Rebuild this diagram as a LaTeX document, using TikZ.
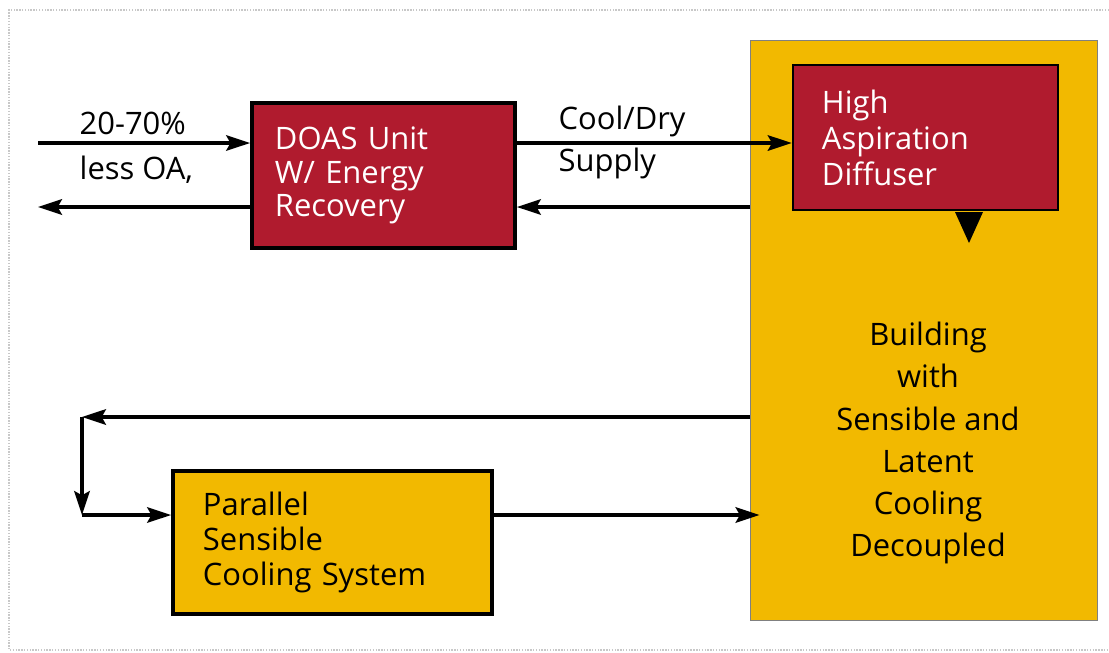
\documentclass[tikz,border=0pt]{standalone}
\usepackage{fontspec}
\setmainfont{Open Sans}
\usepackage{xcolor}
\usepackage{tikz}
\usetikzlibrary{positioning,shapes,arrows.meta,calc}
\definecolor{DoasRed}{RGB}{176,27,46}
\definecolor{Gold}{RGB}{242,185,0}
\definecolor{FrameGray}{RGB}{200,200,200}
\tikzstyle{unit}=[%
      rectangle, draw=black, line width=2.6pt, fill=DoasRed, text=white,
      minimum height=3.625cm, inner xsep=0.575cm, align=left,
      font=\fontsize{22}{24}\selectfont
]
\tikzstyle{diffuser}=[%
      rectangle, draw=black, line width=1.8pt, fill=DoasRed, text=white,
      minimum height=3.625cm, inner xsep=0.725cm, align=left,
      font=\fontsize{22}{25.6}\selectfont
]
\tikzstyle{sensible}=[%
      rectangle, draw=black, line width=2.6pt, fill=Gold,
      minimum height=3.575cm, inner xsep=0.75cm, align=left,
      font=\fontsize{22}{24.9}\selectfont
]
\tikzstyle{building}=[%
      rectangle, draw=gray, line width=0.6pt, fill=Gold,
      minimum width=8.675cm, minimum height=14.5cm
]
\tikzstyle{lbl}=[%
      inner sep=0pt, anchor=base west, font=\fontsize{22}{24}\selectfont
]

\begin{document}
\begin{tikzpicture}[x=0.025cm, y=-0.025cm,
    ->,
    >={Stealth[length=17pt, width=11pt, inset=3pt]},
    line width=2.4pt
  ]
    \useasboundingbox (0,0) rectangle (1109,652);
    \draw[-, FrameGray, densely dotted, line width=1pt] (1109,10) -- (9,10) -- (9,650) -- (1109,650);

    \node[building] (bldg) at (923.5,330) {};
    \node[align=center, font=\fontsize{22}{29.9}\selectfont] (bldglbl) at (928,443)
      {Building\\with\\Sensible and\\Latent\\Cooling\\Decoupled};
    \node[diffuser, text width=5.175cm] (diff) at (925.5,137.5)
      {High\\Aspiration\\Diffuser};
    \coordinate (jet) at (969,212);
    \fill[-] ($(jet)+(-14,0)$) -- ($(jet)+(14,0)$) -- ($(jet)+(0,31)$) -- cycle;

    \node[unit, text width=5.425cm] (doas) at (383.5,175.5)
      {DOAS Unit\\W/ Energy\\Recovery};
    \node[sensible, text width=6.475cm] (par) at (332.5,542.5)
      {Parallel\\Sensible\\Cooling System};

    \coordinate (oa-in)  at (38,143);
    \coordinate (oa-out) at (38,207);
    \coordinate (loop-top) at (82,417);
    \coordinate (loop-bot) at (82,515);

    \node[lbl] (pct)    at (78,134)  {20-70\%};
    \node[lbl] (lessoa) at (78,179)  {less OA,};
    \node[lbl] (cool)   at (557,129) {Cool/Dry};
    \node[lbl] (supply) at (557,171) {Supply};

    \draw (oa-in) -- (oa-in -| doas.west);
    \draw (doas.west |- oa-out) -- (oa-out);
    \draw (doas.east |- oa-in) -- (diff.west |- oa-in);
    \draw (bldg.west |- oa-out) -- (doas.east |- oa-out);

    \draw (bldg.west |- loop-top) -- (loop-top);
    \draw (loop-top) -- (loop-bot);
    \draw (loop-bot) -- (par.west |- loop-bot);
    \draw (par.east |- loop-bot) -- ($(bldg.west |- loop-bot)+(10,0)$);
  \end{tikzpicture}
\end{document}
